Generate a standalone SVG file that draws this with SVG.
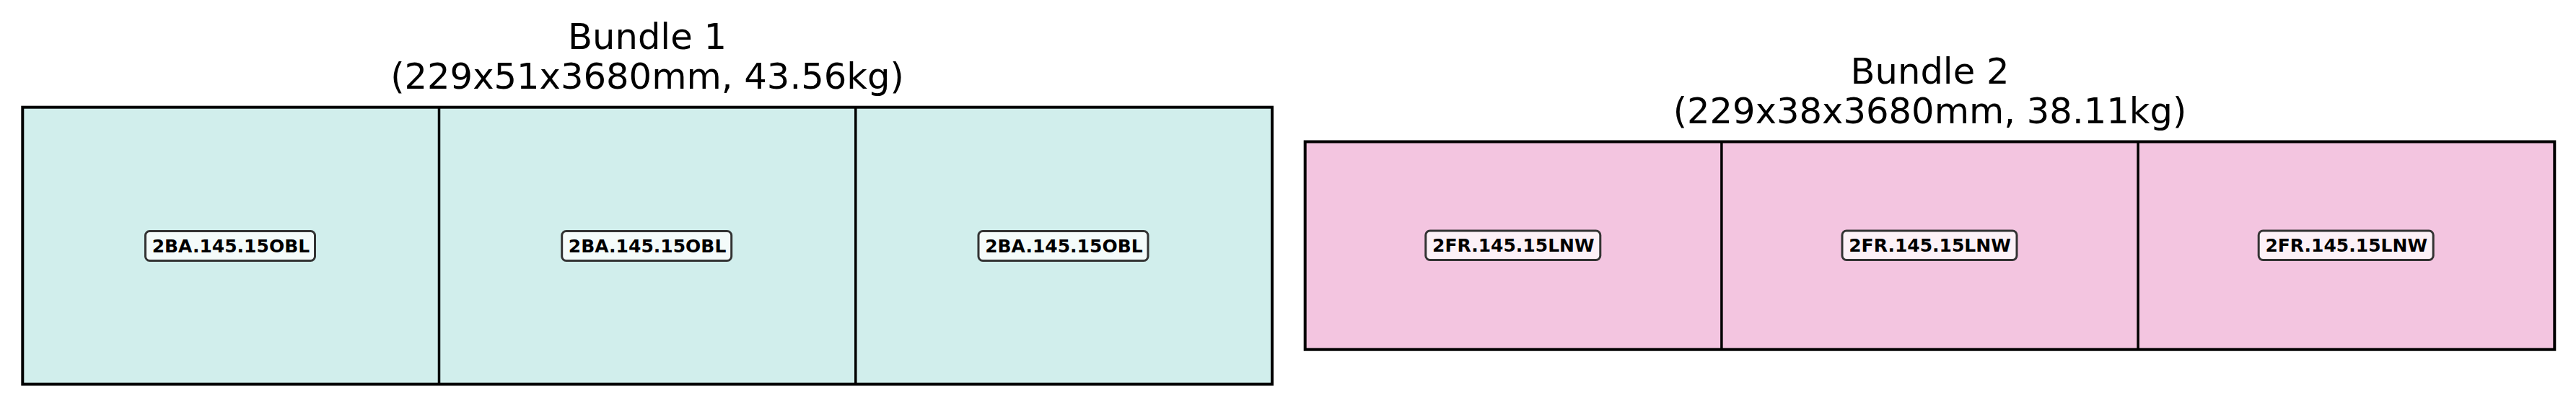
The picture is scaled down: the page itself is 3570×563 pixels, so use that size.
<svg xmlns="http://www.w3.org/2000/svg" width="3570" height="563" viewBox="0 0 3570 563">
<style>
.title{font-family:"DejaVu Sans",sans-serif;font-size:49.6px;fill:#000;text-anchor:middle}
.outer{stroke:#000;stroke-width:4;}
.div{stroke:#000;stroke-width:3.5;fill:none}
.lbl rect{fill:#ffffff;fill-opacity:0.75;stroke:#333;stroke-width:3}
.lbl text{font-family:"DejaVu Sans",sans-serif;font-weight:bold;font-size:25px;fill:#000;text-anchor:middle}
</style>
<rect width="3570" height="563" fill="#fff"/>
<g id="bundle1">
<text class="title" x="897" y="68.3">Bundle 1</text>
<text class="title" x="897" y="123.3">(229x51x3680mm, 43.56kg)</text>
<rect class="outer" x="31.3" y="148.7" width="1731.7" height="384" fill="#d1eeec"/>
<line class="div" x1="608.5" y1="148.7" x2="608.5" y2="532.7"/>
<line class="div" x1="1185.8" y1="148.7" x2="1185.8" y2="532.7"/>
<g class="lbl" id="b1p1"><rect x="201.5" y="320.5" width="235" height="41" rx="6"/><text x="319.9" y="349.9">2BA.145.15OBL</text></g>
<g class="lbl" id="b1p2"><rect x="778.7" y="320.5" width="235" height="41" rx="6"/><text x="897.1" y="349.9">2BA.145.15OBL</text></g>
<g class="lbl" id="b1p3"><rect x="1356" y="320.5" width="235" height="41" rx="6"/><text x="1474.4" y="349.9">2BA.145.15OBL</text></g>
</g>
<g id="bundle2">
<text class="title" x="2674.5" y="116">Bundle 2</text>
<text class="title" x="2674.5" y="171">(229x38x3680mm, 38.11kg)</text>
<rect class="outer" x="1808.7" y="196.5" width="1731.6" height="288.2" fill="#f3c5e0"/>
<line class="div" x1="2385.9" y1="196.5" x2="2385.9" y2="484.7"/>
<line class="div" x1="2963.1" y1="196.5" x2="2963.1" y2="484.7"/>
<g class="lbl" id="b2p1"><rect x="1975.8" y="320" width="242" height="40.5" rx="6"/><text x="2097.3" y="349.4">2FR.145.15LNW</text></g>
<g class="lbl" id="b2p2"><rect x="2553" y="320" width="242" height="40.5" rx="6"/><text x="2674.5" y="349.4">2FR.145.15LNW</text></g>
<g class="lbl" id="b2p3"><rect x="3130.2" y="320" width="242" height="40.5" rx="6"/><text x="3251.7" y="349.4">2FR.145.15LNW</text></g>
</g>
<g id="connectors"/>
</svg>
